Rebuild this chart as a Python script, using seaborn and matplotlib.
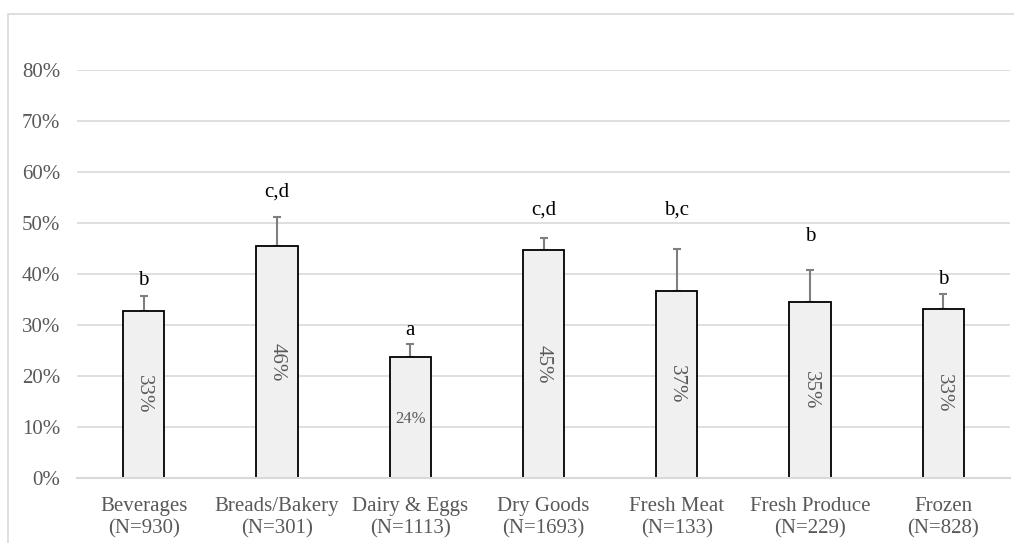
import pandas as pd
import numpy as np
from matplotlib import pyplot as plt
from matplotlib.patches import Rectangle
import seaborn as sns

# Share of purchases per category
categories = ['Beverages', 'Breads/Bakery', 'Dairy & Eggs', 'Dry Goods',
              'Fresh Meat', 'Fresh Produce', 'Frozen']
n_obs = [930, 301, 1113, 1693, 133, 229, 828]
share = [0.327, 0.455, 0.238, 0.447, 0.367, 0.346, 0.331]
err_upper = [0.030, 0.057, 0.024, 0.023, 0.082, 0.062, 0.030]
bar_labels = ['33%', '46%', '24%', '45%', '37%', '35%', '33%']
letters = ['b', 'c,d', 'a', 'c,d', 'b,c', 'b', 'b']
letter_height = [0.388, 0.561, 0.289, 0.525, 0.525, 0.473, 0.390]
y_ticks = [0, 0.1, 0.2, 0.3, 0.4, 0.5, 0.6, 0.7, 0.8]

df = pd.DataFrame({
    'Category': [f'{c}\n(N={n})' for c, n in zip(categories, n_obs)],
    'Share': share,
})

sns.set_style('white')
plt.rcParams['font.family'] = ['Liberation Serif', 'DejaVu Serif']

fig = plt.figure(figsize=(10.14, 5.43), dpi=100)
ax = fig.add_axes([77 / 1014, 1 - 478 / 543, (1010 - 77) / 1014, (478 - 70) / 543])

# chart-area border
fig.patches.append(Rectangle((8 / 1014, -0.05), 1.1, 1 - 14 / 543 + 0.05,
                             transform=fig.transFigure, fill=False,
                             edgecolor='#d9d9d9', linewidth=1.2, zorder=0))

sns.barplot(data=df, x='Category', y='Share', color='#f0f0f0', saturation=1,
            edgecolor='black', linewidth=1.3, width=0.31, ax=ax, zorder=3)

xs = np.arange(len(categories))
ax.errorbar(xs, share, yerr=[np.zeros(len(share)), err_upper], fmt='none',
            ecolor='#7f7f7f', elinewidth=1.5, capsize=2.8, capthick=1.5, zorder=2)

for x, v, lab in zip(xs, share, bar_labels):
    if v < 0.3:
        ax.text(x, v * 0.49, lab, ha='center', va='center', fontsize=12,
                color='#595959', zorder=4)
    else:
        ax.text(x, v / 2, lab, ha='center', va='center', rotation=270,
                fontsize=15, color='#595959', zorder=4)

for x, h, lt in zip(xs, letter_height, letters):
    ax.text(x, h, lt, ha='center', va='center', fontsize=15, color='black')

ax.set_ylim(0, 0.8)
ax.set_xlim(-0.5, len(categories) - 0.5)
ax.set_yticks(y_ticks)
ax.set_yticklabels([f'{int(round(t * 100))}%' for t in y_ticks])
ax.yaxis.grid(True, color='#d9d9d9', linewidth=1.2, zorder=0)
ax.set_axisbelow(True)
ax.tick_params(axis='y', length=0, pad=12, labelsize=15, labelcolor='#595959')
ax.tick_params(axis='x', length=0, pad=14, labelsize=15, labelcolor='#595959')
ax.set_xlabel('')
ax.set_ylabel('')
for s in ['top', 'right', 'left']:
    ax.spines[s].set_visible(False)
ax.spines['bottom'].set_color('#d9d9d9')
ax.spines['bottom'].set_linewidth(1.5)
ax.spines['bottom'].set_zorder(5)

fig.savefig('out.png', dpi=100)
